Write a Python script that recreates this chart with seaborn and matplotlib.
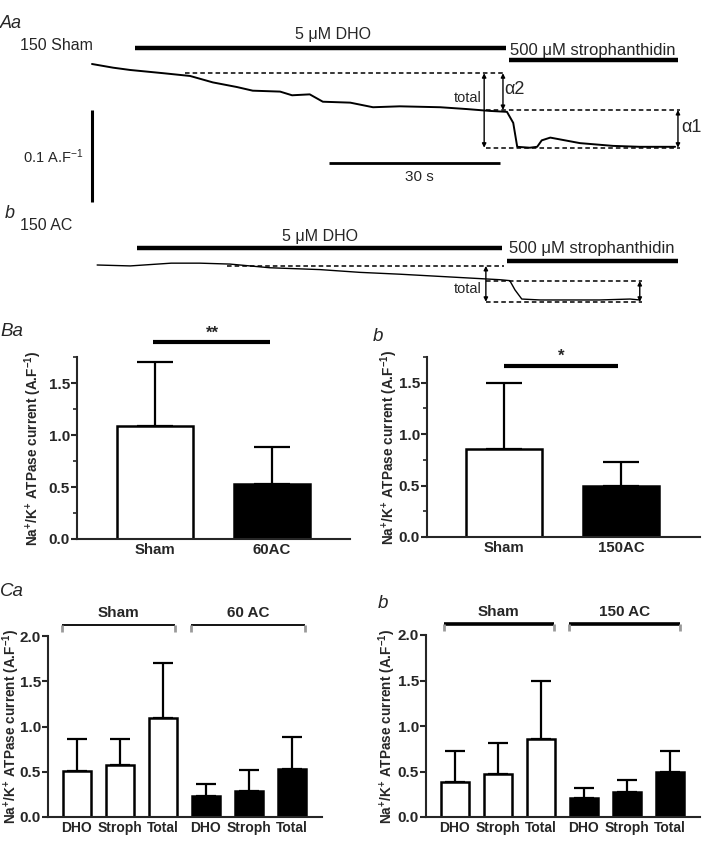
import numpy as np
import pandas as pd
import matplotlib
matplotlib.use("Agg")
import matplotlib.pyplot as plt
import seaborn as sns
from matplotlib.ticker import MultipleLocator

# ---------------- data ----------------
# Aa: 150 Sham trace (time in s, current in A/F relative to start)
sham_t = [0, 3.7, 6.7, 12.5, 17.2, 21.2, 25.4, 28.2, 33.0, 35.1, 38.2, 40.5, 45.3, 49.3,
          54.0, 61.1, 65.8, 69.8, 72.8, 73.9, 74.6, 76.8, 78.1, 78.9, 80.4, 83.0, 85.6,
          91.4, 96.1, 102.3]
sham_i = [0, -0.004, -0.0065, -0.010, -0.013, -0.020, -0.025, -0.029, -0.030, -0.034,
          -0.033, -0.041, -0.042, -0.047, -0.046, -0.047, -0.049, -0.051, -0.052, -0.064,
          -0.090, -0.091, -0.090, -0.083, -0.080, -0.083, -0.086, -0.089, -0.090, -0.090]
sham_levels = [-0.010, -0.050, -0.091]   # start, after DHO, after strophanthidin

# b: 150 AC trace
ac_t = [0.9, 6.7, 13.9, 18.9, 24.2, 31.2, 40.0, 47.0, 54.0, 62.8, 71.6, 73.3, 74.2,
        75.4, 78.6, 89.1, 94.4, 96.1]
ac_i = [0, -0.001, 0.002, 0.002, 0.001, -0.003, -0.005, -0.008, -0.010, -0.013, -0.016,
        -0.017, -0.027, -0.037, -0.038, -0.038, -0.037, -0.038]
ac_levels = [-0.001, -0.0174, -0.040]

# Ba / Bb
ba_groups = ["Sham", "60AC"]
ba_mean = [1.09, 0.53]
ba_top = [1.70, 0.88]
bb_groups = ["Sham", "150AC"]
bb_mean = [0.86, 0.50]
bb_top = [1.50, 0.73]

# Ca / Cb
c_labels = ["DHO", "Stroph", "Total", "DHO", "Stroph", "Total"]
ca_groups = ["Sham", "60 AC"]
ca_mean = [0.51, 0.57, 1.09, 0.23, 0.29, 0.53]
ca_top = [0.86, 0.86, 1.70, 0.37, 0.52, 0.88]
cb_groups = ["Sham", "150 AC"]
cb_mean = [0.38, 0.47, 0.86, 0.21, 0.28, 0.50]
cb_top = [0.72, 0.81, 1.50, 0.32, 0.41, 0.73]

# ---------------- style ----------------
sns.set_style("ticks")
plt.rcParams["font.family"] = ["Liberation Sans", "DejaVu Sans"]
plt.rcParams["mathtext.fontset"] = "custom"
plt.rcParams["mathtext.rm"] = "Liberation Sans"
plt.rcParams["mathtext.bf"] = "Liberation Sans:bold"
plt.rcParams["mathtext.it"] = "Liberation Sans:italic"

W, H = 702, 841
fig = plt.figure(figsize=(W / 100, H / 100), dpi=100)


def box(x0, y0, x1, y1):
    return fig.add_axes([x0 / W, 1 - y1 / H, (x1 - x0) / W, (y1 - y0) / H])


def ft(x, y, s, **kw):
    kw.setdefault("va", "center")
    fig.text(x / W, 1 - y / H, s, **kw)


PX_S = 5.7     # px per second
PX_A = 920.0   # px per A/F


def arrow(ax, x, y0, y1):
    ax.annotate("", xy=(x, y1), xytext=(x, y0),
                arrowprops=dict(arrowstyle="<|-|>", lw=1.0, color="black",
                                mutation_scale=6, shrinkA=0, shrinkB=0))


# ---------------- Aa trace ----------------
axA = box(0, 0, 702, 215)
axA.set_xlim(-92 / PX_S, 610 / PX_S)
axA.set_ylim(-(215 - 64) / PX_A, 64 / PX_A)
axA.axis("off")
sns.lineplot(x=sham_t, y=sham_i, ax=axA, color="black", lw=1.4, sort=False)
axA.plot([7.5, 72.6], [0.0174, 0.0174], color="black", lw=3.2, solid_capstyle="butt")
axA.plot([73.2, 102.8], [0.0043, 0.0043], color="black", lw=3.2, solid_capstyle="butt")
axA.plot([16.3, 72.5], [sham_levels[0]] * 2, ls=(0, (3, 2)), color="black", lw=1.1)
axA.plot([69.1, 103.2], [sham_levels[1]] * 2, ls=(0, (3, 2)), color="black", lw=1.1)
axA.plot([69.1, 103.2], [sham_levels[2]] * 2, ls=(0, (3, 2)), color="black", lw=1.1)
arrow(axA, 68.8, sham_levels[0], sham_levels[2])
arrow(axA, 72.1, sham_levels[0], sham_levels[1])
arrow(axA, 102.8, sham_levels[1], sham_levels[2])
axA.plot([0, 0], [-0.050, -0.150], color="black", lw=2.2, solid_capstyle="butt")
axA.plot([41.6, 71.6], [-0.1076, -0.1076], color="black", lw=2.0, solid_capstyle="butt")

ft(0, 23, "Aa", style="italic", fontsize=13)
ft(20, 46, "150 Sham", fontsize=11.5)
ft(333, 35, "5 \u03bcM DHO", fontsize=11.5, ha="center")
ft(510, 50, "500 \u03bcM strophanthidin", fontsize=12)
ft(482, 98, "total", fontsize=10.5, ha="right")
ft(504, 90, "\u03b12", fontsize=13)
ft(681, 128, "\u03b11", fontsize=13)
ft(53, 157, r"0.1 A.F$^{\mathrm{-1}}$", fontsize=10.5, ha="center")
ft(419, 177, "30 s", fontsize=11, ha="center")

# ---------------- b trace ----------------
axAb = box(0, 200, 702, 315)
axAb.set_xlim(-92 / PX_S, 610 / PX_S)
axAb.set_ylim(-(315 - 265) / PX_A, (265 - 200) / PX_A)
axAb.axis("off")
sns.lineplot(x=ac_t, y=ac_i, ax=axAb, color="black", lw=1.0, sort=False)
axAb.plot([7.9, 71.9], [0.0185, 0.0185], color="black", lw=3.2, solid_capstyle="butt")
axAb.plot([72.8, 102.8], [0.0043, 0.0043], color="black", lw=3.2, solid_capstyle="butt")
axAb.plot([23.7, 72.3], [ac_levels[0]] * 2, ls=(0, (3, 2)), color="black", lw=1.1)
axAb.plot([69.1, 96.5], [ac_levels[1]] * 2, ls=(0, (3, 2)), color="black", lw=1.1)
axAb.plot([69.1, 96.5], [ac_levels[2]] * 2, ls=(0, (3, 2)), color="black", lw=1.1)
arrow(axAb, 69.1, ac_levels[0], ac_levels[2])
arrow(axAb, 96.1, ac_levels[1], ac_levels[2])

ft(5, 213, "b", style="italic", fontsize=13)
ft(20, 225, "150 AC", fontsize=11.5)
ft(320, 236, "5 \u03bcM DHO", fontsize=11.5, ha="center")
ft(509, 249, "500 \u03bcM strophanthidin", fontsize=12)
ft(482, 289, "total", fontsize=10.5, ha="right")

# ---------------- bar panels ----------------
YLAB = r"Na$^{\mathbf{+}}$/K$^{\mathbf{+}}$ ATPase current (A.F$^{\mathbf{-1}}$)"
YLAB_FS = 9.8


def bar_panel(ax, labels, means, tops, colors, ylim, capsize, xfs, edge_lw=1.8):
    keys = [f"{i}_{l}" for i, l in enumerate(labels)]
    df = pd.DataFrame({"cond": keys, "val": means})
    sns.barplot(data=df, x="cond", y="val", hue="cond", palette=colors, legend=False,
                edgecolor="black", linewidth=edge_lw, width=0.65, saturation=1,
                errorbar=None, ax=ax, zorder=2)
    n = len(means)
    err = np.array(tops) - np.array(means)
    ax.errorbar(np.arange(n), means, yerr=[np.zeros(n), err], fmt="none", ecolor="black",
                elinewidth=1.6, capsize=capsize, capthick=1.6, zorder=1)
    ax.set_ylim(*ylim)
    ax.set_xticks(np.arange(n))
    ax.set_xticklabels(labels, fontweight="bold", fontsize=xfs)
    ax.set_xlabel("")
    ax.set_ylabel("")
    for sp in ["top", "right"]:
        ax.spines[sp].set_visible(False)
    for sp in ["left", "bottom"]:
        ax.spines[sp].set_linewidth(1.5)
    ax.tick_params(axis="y", width=1.5, length=4, labelsize=11, pad=1)
    ax.tick_params(axis="x", length=0, pad=3)


def bold_yticks(ax):
    for t in ax.get_yticklabels():
        t.set_fontweight("bold")


# Ba
axBa = box(77, 357, 350, 539)
bar_panel(axBa, ba_groups, ba_mean, ba_top, ["white", "black"], (0, 1.75), 13.3, 10.8)
axBa.set_xlim(-0.67, 1.67)
axBa.yaxis.set_major_locator(MultipleLocator(0.5))
axBa.yaxis.set_minor_locator(MultipleLocator(0.25))
axBa.tick_params(axis="y", which="minor", width=1.2, length=3)
axBa.plot([-0.02, 0.98], [1.89, 1.89], color="black", lw=3, clip_on=False,
          solid_capstyle="butt")
axBa.text(0.49, 1.98, "**", ha="center", va="center", fontsize=12, fontweight="bold")
bold_yticks(axBa)
ft(33, 448, YLAB, rotation=90, ha="center", fontsize=YLAB_FS, fontweight="bold")
ft(0, 332, "Ba", style="italic", fontsize=13.5)

# Bb
axBb = box(427, 357, 700, 537)
bar_panel(axBb, bb_groups, bb_mean, bb_top, ["white", "black"], (0, 1.75), 13.3, 10.8)
axBb.set_xlim(-0.66, 1.675)
axBb.yaxis.set_major_locator(MultipleLocator(0.5))
axBb.yaxis.set_minor_locator(MultipleLocator(0.25))
axBb.tick_params(axis="y", which="minor", width=1.2, length=3)
axBb.plot([0, 0.97], [1.665, 1.665], color="black", lw=3, clip_on=False,
          solid_capstyle="butt")
axBb.text(0.49, 1.76, "*", ha="center", va="center", fontsize=12, fontweight="bold",
          clip_on=False)
bold_yticks(axBb)
ft(389, 447, YLAB, rotation=90, ha="center", fontsize=YLAB_FS, fontweight="bold")
ft(373, 337, "b", style="italic", fontsize=13.5)


def brackets(ax, groups, spans, lw):
    for g, (x0, x1) in zip(groups, spans):
        ax.plot([x0, x1], [2.12, 2.12], color="black", lw=lw, clip_on=False,
                solid_capstyle="butt")
        for xx in (x0, x1):
            ax.plot([xx, xx], [2.12, 2.04], color="#9a9a9a", lw=2.0, clip_on=False,
                    solid_capstyle="butt")
        ax.text((x0 + x1) / 2, 2.25, g, ha="center", va="center", fontsize=11,
                fontweight="bold", clip_on=False)


cols6 = ["white"] * 3 + ["black"] * 3

# Ca
axCa = box(48, 636, 322, 817)
bar_panel(axCa, c_labels, ca_mean, ca_top, cols6, (0, 2.0), 7.2, 10)
axCa.set_xlim(-0.67, 5.7)
axCa.yaxis.set_major_locator(MultipleLocator(0.5))
bold_yticks(axCa)
brackets(axCa, ca_groups, [(-0.35, 2.28), (2.65, 5.3)], 1.3)
ft(11, 726, YLAB, rotation=90, ha="center", fontsize=YLAB_FS, fontweight="bold")
ft(0, 592, "Ca", style="italic", fontsize=13.5)

# Cb
axCb = box(426, 635, 700, 817)
bar_panel(axCb, c_labels, cb_mean, cb_top, cols6, (0, 2.0), 7.2, 10)
axCb.set_xlim(-0.67, 5.7)
axCb.yaxis.set_major_locator(MultipleLocator(0.5))
bold_yticks(axCb)
brackets(axCb, cb_groups, [(-0.26, 2.3), (2.65, 5.23)], 2.6)
ft(387, 726, YLAB, rotation=90, ha="center", fontsize=YLAB_FS, fontweight="bold")
ft(378, 603, "b", style="italic", fontsize=13.5)

fig.savefig("out.png", dpi=100)
